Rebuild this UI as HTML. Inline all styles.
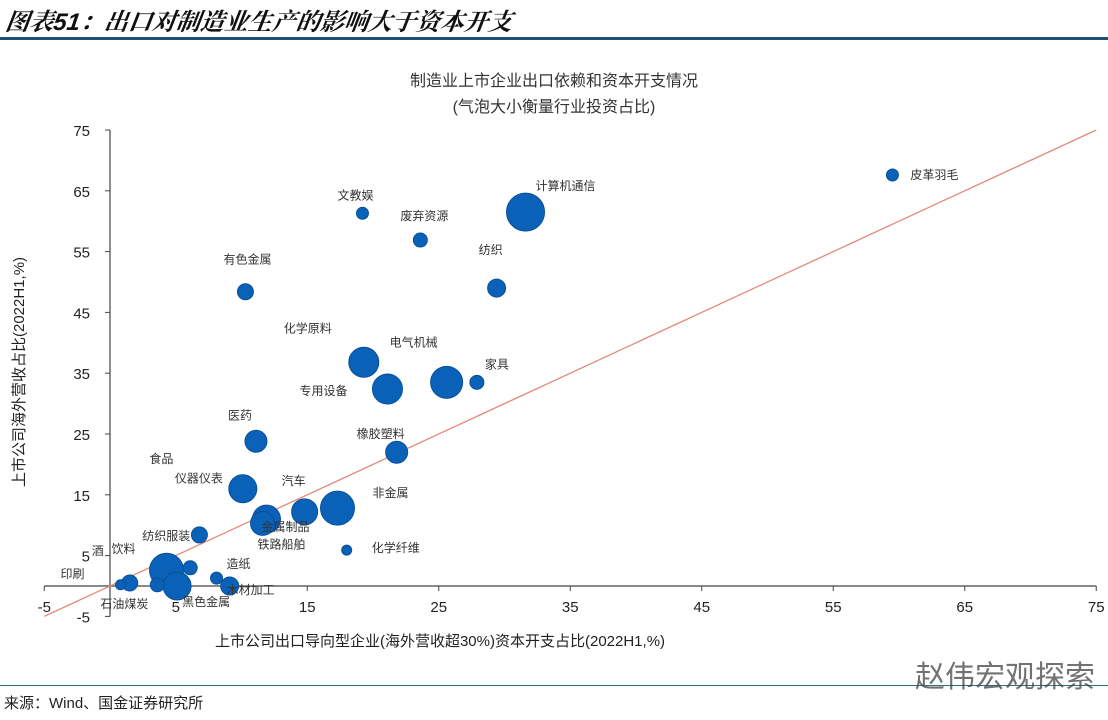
<!DOCTYPE html>
<html><head><meta charset="utf-8">
<style>
body{margin:0;width:1108px;height:720px;background:#fff;overflow:hidden;font-family:"Liberation Sans","Noto Sans CJK SC",sans-serif;position:relative}
.t{position:absolute;white-space:nowrap}
</style></head><body>
<div class="t" style="left:6px;top:2px;font-size:24px;font-style:italic;font-weight:bold;color:#111;font-family:'Liberation Sans','Noto Serif CJK SC',serif;transform:skewX(-8deg)">图表51：出口对制造业生产的影响大于资本开支</div>
<div style="position:absolute;left:0;top:37px;width:1108px;height:3px;background:#1f4e79"></div>
<div style="position:absolute;left:0;top:685px;width:1108px;height:1px;background:#2e6f8a"></div>
<div class="t" style="left:4px;top:692px;font-size:15px;color:#222">来源：Wind、国金证券研究所</div>
<div class="t" style="left:915px;top:652px;font-size:30px;color:#444;opacity:.75">赵伟宏观探索</div>
<svg id="c" width="1108" height="720" style="position:absolute;left:0;top:0"></svg>
<script>
const names=["皮革羽毛","计算机通信","文教娱","废弃资源","纺织","有色金属","化学原料","专用设备","电气机械","家具","医药","橡胶塑料","仪器仪表","汽车","非金属","金属制品","铁路船舶","化学纤维","食品","纺织服装","饮料","黑色金属","石油煤炭","造纸","木材加工","酒","印刷"];
const xs=[59.5,31.6,19.2,23.6,29.4,10.3,19.3,21.1,25.6,27.9,11.1,21.8,10.1,14.8,17.3,11.9,11.6,18.0,6.8,6.1,4.3,5.1,3.6,8.1,9.1,1.5,0.8];
const ys=[67.6,61.5,61.3,56.9,49.0,48.4,36.8,32.4,33.5,33.5,23.8,22.0,16.0,12.2,12.8,11.0,10.3,5.9,8.4,3.0,2.6,0.0,0.2,1.3,0.0,0.5,0.2];
const sizes=[6,19,6,7,9,8,15,15,16,7,11,11,14,13,17,14,12,5,8,7,17,14,7,6,9,8,5];
const labelDx=[18,10,-25,-20,-18,-22,-80,-88,-57,8,-28,-40,-68,-23,35,-5,-5,25,-50,-48,-55,5,-57,10,-3,-38,-60];
const labelDy=[4,-22,-14,-20,-34,-28,-30,6,-36,-14,-22,-14,-6,-27,-11,12,25,2,-72,-28,-17,20,23,-10,8,-28,-7];
const xTicks=[-5,5,15,25,35,45,55,65,75];
const yTicks=[-5,5,15,25,35,45,55,65,75];
const X=v=>110+v*13.15, Y=v=>586-v*6.08;
const svg=document.getElementById('c');const NS='http://www.w3.org/2000/svg';
function mk(t,a,txt){const e=document.createElementNS(NS,t);for(const k in a)e.setAttribute(k,a[k]);if(txt!=null)e.textContent=txt;svg.appendChild(e);return e;}
let e;
e=mk('text',{x:554,y:86,'text-anchor':'middle','font-size':16,fill:'#333'},'制造业上市企业出口依赖和资本开支情况');


e=mk('text',{x:554,y:112,'text-anchor':'middle','font-size':16,fill:'#333'},'(气泡大小衡量行业投资占比)');


e=mk('line',{x1:X(-5),y1:Y(0),x2:X(75),y2:Y(0),stroke:'#444','stroke-width':1.2});


e=mk('line',{x1:X(0),y1:Y(75),x2:X(0),y2:Y(-5),stroke:'#444','stroke-width':1.2});


xTicks.forEach(v=>{e=mk('line',{x1:X(v),y1:Y(0),x2:X(v),y2:Y(0)+5,stroke:'#444'});


e=mk('text',{x:X(v),y:612,'text-anchor':'middle','font-size':15,fill:'#222'},v);

});
yTicks.forEach(v=>{e=mk('line',{x1:X(0)-5,y1:Y(v),x2:X(0),y2:Y(v),stroke:'#444'});


e=mk('text',{x:90,y:Y(v)+6,'text-anchor':'end','font-size':15,fill:'#222'},v);

});
e=mk('line',{x1:X(-5),y1:Y(-5),x2:X(75),y2:Y(75),stroke:'#e58a78','stroke-width':1.3});


names.forEach((n,i)=>{e=mk('circle',{cx:X(xs[i]),cy:Y(ys[i]),r:sizes[i],fill:'#0a62b8',stroke:'#0a4f9a','stroke-width':1});

});
names.forEach((n,i)=>{e=mk('text',{x:X(xs[i])+labelDx[i],y:Y(ys[i])+labelDy[i],'font-size':12,fill:'#333'},n);

});
e=mk('text',{x:440,y:646,'text-anchor':'middle','font-size':15,fill:'#222'},'上市公司出口导向型企业(海外营收超30%)资本开支占比(2022H1,%)');


e=mk('text',{x:0,y:0,'text-anchor':'middle','font-size':15,fill:'#222',transform:'translate(24,372) rotate(-90)'},'上市公司海外营收占比(2022H1,%)');


</script>
</body></html>
